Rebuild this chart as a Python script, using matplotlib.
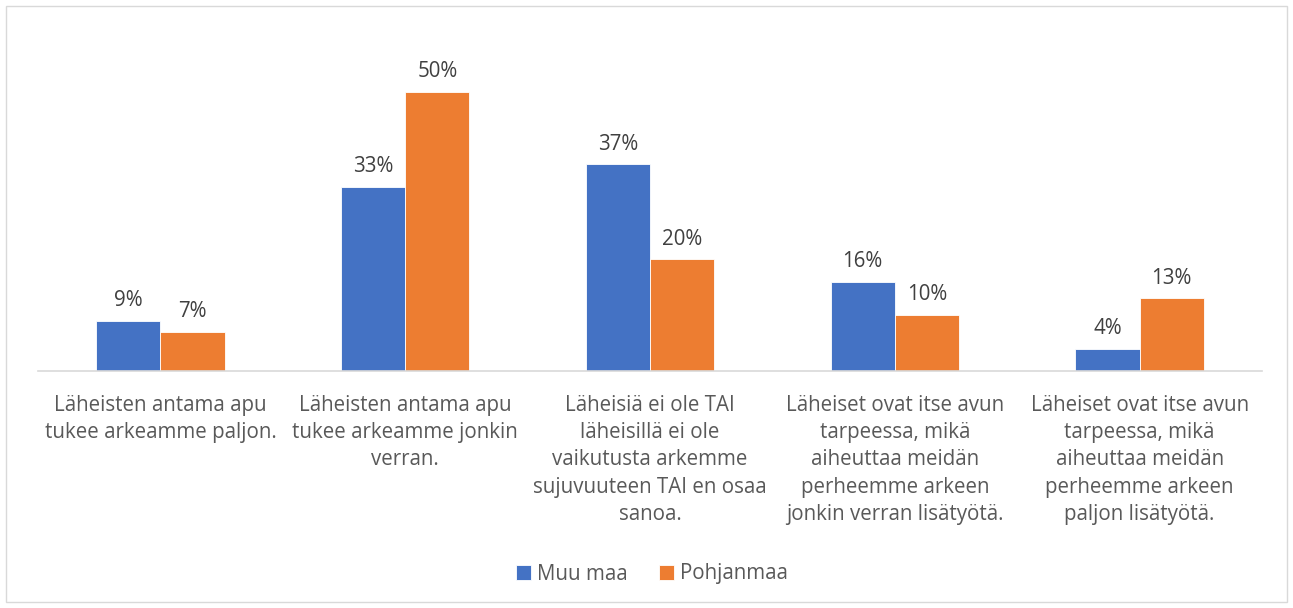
import matplotlib
matplotlib.use("Agg")
import matplotlib.pyplot as plt
import numpy as np

# category labels (already wrapped like in the original chart)
categories = [
    "Läheisten antama apu\ntukee arkeamme paljon.",
    "Läheisten antama apu\ntukee arkeamme jonkin\nverran.",
    "Läheisiä ei ole TAI\nläheisillä ei ole\nvaikutusta arkemme\nsujuvuuteen TAI en osaa\nsanoa.",
    "Läheiset ovat itse avun\ntarpeessa, mikä\naiheuttaa meidän\nperheemme arkeen\njonkin verran lisätyötä.",
    "Läheiset ovat itse avun\ntarpeessa, mikä\naiheuttaa meidän\nperheemme arkeen\npaljon lisätyötä.",
]
muu_maa = [9, 33, 37, 16, 4]
pohjanmaa = [7, 50, 20, 10, 13]
series_names = ["Muu maa", "Pohjanmaa"]
colors = ["#4472C4", "#ED7D31"]

plt.rcParams['font.family'] = ['Open Sans', 'DejaVu Sans']
text_col = "#595959"
fs = 14.8

fig = plt.figure(figsize=(12.93, 6.08), dpi=100)
ax = fig.add_axes([38 / 1293, (608 - 371) / 608, 1224 / 1293, 335 / 608])

x = np.arange(len(categories))
w = 0.262
b1 = ax.bar(x - w / 2, muu_maa, w, color=colors[0], edgecolor="white", linewidth=0.6, label=series_names[0])
b2 = ax.bar(x + w / 2, pohjanmaa, w, color=colors[1], edgecolor="white", linewidth=0.6, label=series_names[1])

for bars, vals in ((b1, muu_maa), (b2, pohjanmaa)):
    for rect, v in zip(bars, vals):
        ax.annotate(f"{v}%", (rect.get_x() + rect.get_width() / 2, v),
                    xytext=(0, 7), textcoords="offset points",
                    ha="center", va="bottom", fontsize=fs, color="#404040")

ax.set_xlim(-0.5, 4.5)
ax.set_ylim(0, 60)
ax.set_yticks([])
ax.set_xticks(x)
ax.set_xticklabels(categories, fontsize=fs, color=text_col, linespacing=1.4)
ax.tick_params(axis="x", length=0, pad=17)
for s in ("top", "right", "left"):
    ax.spines[s].set_visible(False)
ax.spines["bottom"].set_color("#D9D9D9")
ax.spines["bottom"].set_linewidth(1.2)

fig.legend(loc="center", bbox_to_anchor=(652 / 1293, 1 - 574 / 608), ncol=2,
           frameon=False, fontsize=fs, handlelength=0.75, handleheight=0.75,
           handletextpad=0.3, columnspacing=1.5, labelcolor=text_col)

# chart border
fig.patches.append(plt.Rectangle((6 / 1293, 6 / 608), 1281 / 1293, 596 / 608,
                                 transform=fig.transFigure, fill=False,
                                 edgecolor="#D9D9D9", linewidth=1))

fig.savefig("out.png", dpi=100)
